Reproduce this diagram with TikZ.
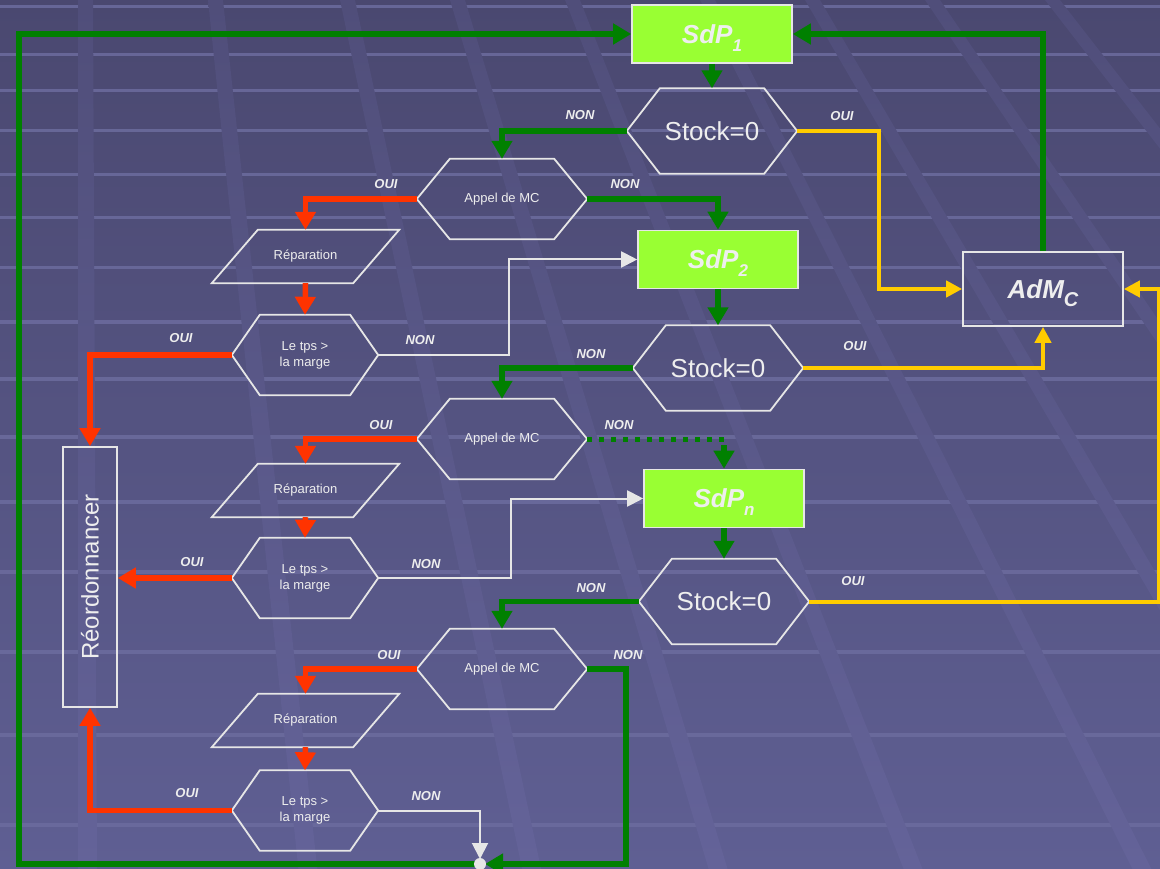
\documentclass[tikz,border=0pt]{standalone}
\usepackage{fontspec}
\setmainfont{Liberation Sans}
\usetikzlibrary{arrows.meta}

\definecolor{bgtop}{HTML}{4A4870}
\definecolor{bgbot}{HTML}{5F5F93}
\definecolor{bandtop}{HTML}{504E7A}
\definecolor{bandbot}{HTML}{646399}
\definecolor{stripe}{HTML}{6C6C9E}
\definecolor{sdpfill}{HTML}{99FF33}
\definecolor{flowgreen}{HTML}{008000}
\definecolor{flowred}{HTML}{FF3300}
\definecolor{flowyellow}{HTML}{FFCC00}
\definecolor{framecol}{HTML}{E6E6E6}
\definecolor{txt}{HTML}{EEEEEE}

% outline of a hexagon with pointed left and right ends
\newcommand\hexframe[2]{\draw[shapeline] (#1.west) -- ([xshift=#2]#1.north west) -- ([xshift=-#2]#1.north east) -- (#1.east) -- ([xshift=-#2]#1.south east) -- ([xshift=#2]#1.south west) -- cycle;}
% outline of a parallelogram leaning to the right
\newcommand\slantframe[2]{\draw[shapeline] (#1.south west) -- ([xshift=-#2]#1.south east) -- (#1.north east) -- ([xshift=#2]#1.north west) -- cycle;}
% lowered index that does not change the height of its line
\newcommand\lowidx[2]{\raisebox{-8pt}[0pt][0pt]{\fontsize{#1}{#1}\selectfont #2}}

\tikzset{
  shapeline/.style={draw=framecol, line width=1.8pt, line join=miter},
  sdpbox/.style={rectangle, fill=sdpfill, draw=framecol, line width=1.6pt,
    minimum width=160pt, minimum height=58pt, inner sep=0pt, text=txt,
    font=\fontsize{26}{26}\selectfont\bfseries\itshape},
  admbox/.style={rectangle, draw=framecol, line width=1.6pt,
    minimum width=160pt, minimum height=74pt, inner sep=0pt, text=txt,
    font=\fontsize{26}{26}\selectfont\bfseries\itshape},
  stockhex/.style={rectangle, inner sep=0pt, minimum width=170pt, minimum height=85pt,
    text=txt, font=\fontsize{26}{26}\selectfont},
  callhex/.style={rectangle, inner sep=0pt, minimum width=170pt, minimum height=80pt,
    text=txt, font=\fontsize{13}{16}\selectfont},
  testhex/.style={rectangle, inner sep=0pt, minimum width=146pt, minimum height=80pt,
    text=txt, align=center, font=\fontsize{13}{16}\selectfont},
  repbox/.style={rectangle, inner sep=0pt, minimum width=187pt, minimum height=53pt,
    text=txt, font=\fontsize{13}{16}\selectfont},
  reobox/.style={rectangle, draw=framecol, line width=1.6pt, inner sep=0pt,
    minimum width=54pt, minimum height=260pt, text=txt, font=\fontsize{24}{24}\selectfont},
  lbl/.style={text=txt, inner sep=0pt, font=\fontsize{13}{13}\selectfont\bfseries\itshape},
  gline/.style={draw=flowgreen, line width=5.5pt},
  garrow/.style={gline, -{Triangle[length=18pt,width=20pt]}},
  gdots/.style={draw=flowgreen, line width=5pt, dash pattern=on 4.5pt off 7.5pt},
  rarrow/.style={draw=flowred, line width=5.5pt, -{Triangle[length=18pt,width=20pt]}},
  yarrow/.style={draw=flowyellow, line width=4pt, -{Triangle[length=16pt,width=16pt]}},
  warrow/.style={draw=framecol, line width=2pt, -{Triangle[length=16pt,width=16pt]}},
}

\begin{document}
\begin{tikzpicture}[x=1pt,y=-1pt]
\useasboundingbox (0,0) rectangle (1160,869);
\begin{scope}
\clip (0,0) rectangle (1160,869);
% background: vertical gradient, light horizontal rules, slanted bands
\shade[top color=bgtop, bottom color=bgbot] (0,0) rectangle (1160,869);
\foreach \y in {5,53,89,129,173,216,266,320,377,435,500,570,650,733,823}
  \fill[stripe, opacity=0.85] (0,\y) rectangle (1160,\y+3.5);
\foreach \x in {78,208,340,450,565,700,805,925,1045} {
  \pgfmathsetmacro\d{(\x-78)/1250*869}
  \shade[top color=bandtop, bottom color=bandbot]
    (\x,0) -- (\x+15,0) -- (\x+19+\d,869) -- (\x+\d,869) -- cycle;
}
\end{scope}

% process boxes
\node[sdpbox] (sdp1) at (712,34) {SdP\lowidx{17}{1}};
\node[sdpbox] (sdp2) at (718,259.5) {SdP\lowidx{17}{2}};
\node[sdpbox] (sdpn) at (724,498.5) {SdP\lowidx{17}{n}};
\node[admbox] (adm) at (1043,289) {AdM\lowidx{20}{C}};
\node[reobox] (reo) at (90,577) {\rotatebox{90}{Réordonnancer}};

% decisions
\node[stockhex] (st1) at (712,131) {Stock=0};
\node[stockhex] (st2) at (718,368) {Stock=0};
\node[stockhex] (stn) at (724,601.5) {Stock=0};
\node[callhex] (ap1) at (502,199) {Appel de MC};
\node[callhex] (ap2) at (502,439) {Appel de MC};
\node[callhex] (ap3) at (502,669) {Appel de MC};
\node[testhex] (tps1) at (305,355) {Le tps >\\la marge};
\node[testhex] (tps2) at (305,578) {Le tps >\\la marge};
\node[testhex] (tps3) at (305,810.5) {Le tps >\\la marge};
\node[repbox] (rep1) at (305.5,256.5) {Réparation};
\node[repbox] (rep2) at (305.5,490.5) {Réparation};
\node[repbox] (rep3) at (305.5,720.5) {Réparation};

\foreach \n in {st1,st2,stn,ap1,ap2,ap3} {\hexframe{\n}{33pt}}
\foreach \n in {tps1,tps2,tps3} {\hexframe{\n}{28pt}}
\foreach \n in {rep1,rep2,rep3} {\slantframe{\n}{46pt}}

\coordinate (j) at (480,864);
\coordinate (loopc) at (19,864);

% connectors
\draw[garrow] (adm.north) |- (sdp1.east);
\draw[garrow] (j) -- (loopc) |- (sdp1.west);
\draw[garrow] (sdp1.south) -- (st1.north);
\draw[garrow] (st1.west) -| (ap1.north);
\draw[yarrow] (st1.east) -- ++(82,0) |- (adm.west);
\draw[garrow] (ap1.east) -| (sdp2.north);
\draw[rarrow] (ap1.west) -| (rep1.north);
\draw[rarrow] (rep1.south) -- (tps1.north);
\draw[rarrow] (tps1.west) -| (reo.north);
\draw[warrow] (tps1.east) -- ++(131,0) |- (sdp2.west);

\draw[garrow] (sdp2.south) -- (st2.north);
\draw[garrow] (st2.west) -| (ap2.north);
\draw[yarrow] (st2.east) -| (adm.south);
\draw[gdots] (ap2.east) -- (ap2.east -| sdpn.north);
\draw[garrow] ([yshift=-6pt]ap2.east -| sdpn.north) -- (sdpn.north);
\draw[rarrow] (ap2.west) -| (rep2.north);
\draw[rarrow] (rep2.south) -- (tps2.north);
\draw[rarrow] (tps2.west) -- (tps2.west -| reo.east);
\draw[warrow] (tps2.east) -- ++(133,0) |- (sdpn.west);

\draw[garrow] (sdpn.south) -- (stn.north);
\draw[garrow] (stn.west) -| (ap3.north);
\draw[yarrow] (stn.east) -- ++(350,0) |- (adm.east);
\draw[garrow, shorten >=5pt] (ap3.east) -- ++(39,0) |- (j);
\draw[rarrow] (ap3.west) -| (rep3.north);
\draw[rarrow] (rep3.south) -- (tps3.north);
\draw[rarrow] (tps3.west) -| (reo.south);
\draw[warrow, shorten >=5pt] (tps3.east) -| (j);
\fill[framecol] (j) circle (6);

% branch labels
\node[lbl] (l1) at (580,115) {NON};
\node[lbl] (l2) at (842,116) {OUI};
\node[lbl] (l3) at (386,184) {OUI};
\node[lbl] (l4) at (625,184) {NON};
\node[lbl] (l5) at (181,338) {OUI};
\node[lbl] (l6) at (420,340) {NON};
\node[lbl] (l7) at (591,354) {NON};
\node[lbl] (l8) at (855,346) {OUI};
\node[lbl] (l9) at (381,425) {OUI};
\node[lbl] (l10) at (619,425) {NON};
\node[lbl] (l11) at (192,562) {OUI};
\node[lbl] (l12) at (426,564) {NON};
\node[lbl] (l13) at (591,588) {NON};
\node[lbl] (l14) at (853,581) {OUI};
\node[lbl] (l15) at (389,655) {OUI};
\node[lbl] (l16) at (628,655) {NON};
\node[lbl] (l17) at (187,793) {OUI};
\node[lbl] (l18) at (426,796) {NON};
\end{tikzpicture}
\end{document}
